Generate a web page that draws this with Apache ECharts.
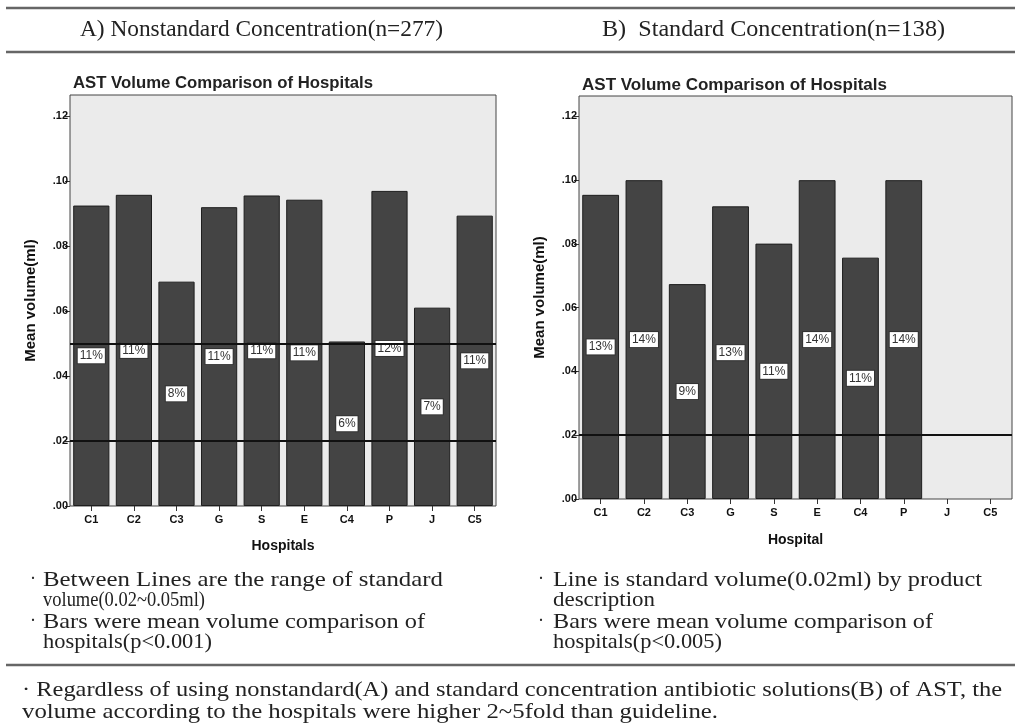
<!DOCTYPE html>
<html lang="en">
<head>
    <meta charset="UTF-8">
    <title>AST Volume Comparison of Hospitals</title>
    <style>
        * { margin: 0; padding: 0; }
        html, body { width: 100%; height: 100%; background: #fff; }
        #charts { width: 1015px; height: 727px; }
    </style>
    <script src="https://cdn.jsdelivr.net/npm/echarts@6/dist/echarts.min.js"></script>
</head>
<body>
<div id="charts"></div>
<script>
    // data
    var hospitals = ['C1', 'C2', 'C3', 'G', 'S', 'E', 'C4', 'P', 'J', 'C5'];
    var volumeA = [0.0924, 0.0957, 0.0690, 0.0919, 0.0955, 0.0942, 0.0506, 0.0969, 0.0610, 0.0893];
    var shareA = ['11%', '11%', '8%', '11%', '11%', '11%', '6%', '12%', '7%', '11%'];
    var volumeB = [0.0954, 0.1000, 0.0674, 0.0918, 0.0801, 0.1000, 0.0757, 0.1000, null, null];
    var shareB = ['13%', '14%', '9%', '13%', '11%', '14%', '11%', '14%', '', ''];
    var linesA = [0.02, 0.05];
    var linesB = [0.02];

    var serif = '"Liberation Serif", "DejaVu Serif", serif';
    var sans = '"Liberation Sans", Arial, sans-serif';

    // measure text so it can be squeezed to the width seen in the picture
    var ctx = document.createElement('canvas').getContext('2d');
    function fitText(text, x, y, width, font) {
        ctx.font = font;
        var w = ctx.measureText(text).width;
        return {
            type: 'text',
            x: x,
            y: y,
            scaleX: width / w,
            style: {
                text: text,
                font: font,
                fill: '#222',
                verticalAlign: 'middle'
            }
        };
    }
    function hline(y, x1, x2) {
        return {
            type: 'line',
            shape: { x1: x1, y1: y, x2: x2, y2: y },
            style: { stroke: '#666', lineWidth: 2.5 }
        };
    }

    function yAxisOf(gridIndex, name) {
        return {
            type: 'value',
            gridIndex: gridIndex,
            min: 0,
            max: 0.1264,
            interval: 0.02,
            name: name,
            nameLocation: 'middle',
            nameGap: 32,
            nameTextStyle: { fontFamily: sans, fontWeight: 'bold', fontSize: 15, color: '#111' },
            splitLine: { show: false },
            axisLine: { show: false },
            axisTick: { show: true, length: 5, lineStyle: { color: '#333' } },
            axisLabel: {
                fontFamily: sans,
                fontWeight: 'bold',
                fontSize: 11,
                color: '#111',
                margin: 2,
                showMaxLabel: false,
                formatter: function (v) {
                    return v.toFixed(2).replace(/^0/, '');
                }
            }
        };
    }
    function xAxisOf(gridIndex, name, gap) {
        return {
            type: 'category',
            gridIndex: gridIndex,
            data: hospitals,
            name: name,
            nameLocation: 'middle',
            nameGap: gap,
            nameTextStyle: { fontFamily: sans, fontWeight: 'bold', fontSize: 14, color: '#111' },
            axisLine: { show: false },
            axisTick: { show: true, alignWithLabel: true, length: 5, lineStyle: { color: '#333' } },
            axisLabel: { fontFamily: sans, fontWeight: 'bold', fontSize: 11, color: '#111', margin: 8, interval: 0 }
        };
    }
    function barSeries(idx, values, shares, lines) {
        return {
            type: 'bar',
            xAxisIndex: idx,
            yAxisIndex: idx,
            data: values,
            barCategoryGap: '15%',
            itemStyle: { color: '#444', borderColor: '#1e1e1e', borderWidth: 1 },
            label: {
                show: true,
                position: 'inside',
                formatter: function (p) {
                    return shares[p.dataIndex];
                },
                fontFamily: sans,
                fontSize: 12,
                color: '#333',
                backgroundColor: '#fff',
                borderColor: '#333',
                borderWidth: 1,
                padding: [2, 2, 1, 2]
            },
            markLine: {
                silent: true,
                symbol: 'none',
                label: { show: false },
                lineStyle: { color: '#111', width: 2, type: 'solid' },
                data: lines.map(function (v) { return { yAxis: v }; })
            },
            z: 2
        };
    }

    var titleFont = 'bold 17px ' + sans;

    var option = {
        animation: false,
        backgroundColor: '#fff',
        grid: [
            { left: 70, top: 95, width: 426, height: 411, show: true,
              backgroundColor: '#ebebeb', borderColor: '#444', borderWidth: 1 },
            { left: 579, top: 96, width: 433, height: 403, show: true,
              backgroundColor: '#ebebeb', borderColor: '#444', borderWidth: 1 }
        ],
        xAxis: [xAxisOf(0, 'Hospitals', 33), xAxisOf(1, 'Hospital', 34)],
        yAxis: [yAxisOf(0, 'Mean volume(ml)'), yAxisOf(1, 'Mean volume(ml)')],
        series: [barSeries(0, volumeA, shareA, linesA), barSeries(1, volumeB, shareB, linesB)],
        graphic: [
            hline(8, 6, 1015),
            hline(52, 6, 1015),
            hline(665, 6, 1015),
            fitText('A) Nonstandard Concentration(n=277)', 80, 30, 363, '23px ' + serif),
            fitText('B)  Standard Concentration(n=138)', 602, 30, 343, '23px ' + serif),

            fitText('AST Volume Comparison of Hospitals', 73, 83, 300, titleFont),
            fitText('AST Volume Comparison of Hospitals', 582, 85, 305, titleFont),

            fitText('\u00b7', 30, 579, 6, '22px ' + serif),
            fitText('Between Lines are the range of standard', 43, 580, 400, '22px ' + serif),
            fitText('volume(0.02~0.05ml)', 43, 600, 162, '22px ' + serif),
            fitText('\u00b7', 30, 621, 6, '22px ' + serif),
            fitText('Bars were mean volume comparison of', 43, 622, 382, '22px ' + serif),
            fitText('hospitals(p<0.001)', 43, 642, 169, '22px ' + serif),

            fitText('\u00b7', 538, 579, 6, '22px ' + serif),
            fitText('Line is standard volume(0.02ml) by product', 553, 580, 429, '22px ' + serif),
            fitText('description', 553, 600, 102, '22px ' + serif),
            fitText('\u00b7', 538, 621, 6, '22px ' + serif),
            fitText('Bars were mean volume comparison of', 553, 622, 380, '22px ' + serif),
            fitText('hospitals(p<0.005)', 553, 642, 169, '22px ' + serif),

            fitText('\u00b7 Regardless of using nonstandard(A) and standard concentration antibiotic solutions(B) of AST, the',
                22, 690, 980, '22px ' + serif),
            fitText('volume according to the hospitals were higher 2~5fold than guideline.', 22, 712, 696, '22px ' + serif)
        ]
    };

    var myChart = echarts.init(document.getElementById('charts'));
    myChart.setOption(option);
</script>
</body>
</html>
